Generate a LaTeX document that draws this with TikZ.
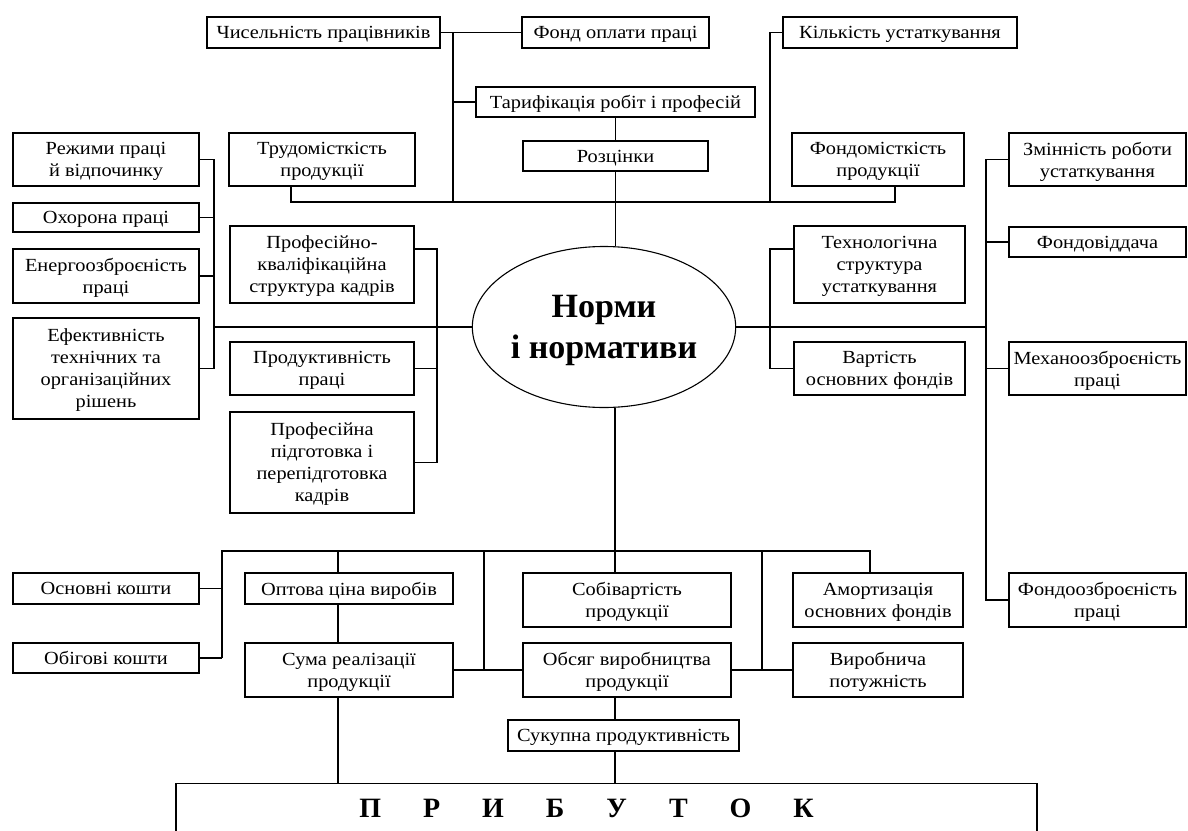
\documentclass[tikz,border=0pt]{standalone}
\usepackage{fontspec}
\setmainfont{Liberation Serif}
\newfontfamily\boxfamily{Liberation Serif}[FakeStretch=1.1]
\usetikzlibrary{shapes.geometric}

\newcommand{\boxfont}{\boxfamily\fontsize{18.5}{22}\selectfont}
\newcommand{\normsfont}{\fontsize{34}{41}\selectfont\bfseries}
\newcommand{\profitfont}{\fontsize{28}{30}\selectfont\bfseries}
\newcommand{\gap}{\hspace{42pt}}

\begin{document}
\begin{tikzpicture}[
    x=1pt, y=-1pt,
    line width=1.1pt,
    box/.style 2 args={draw, align=center, inner sep=0pt, font=\boxfont,
        minimum width=#1, minimum height=#2, text depth=-5pt},
    norm/.style={ellipse, draw, align=center, inner sep=0pt, font=\normsfont,
        text depth=-14pt}
]
    \useasboundingbox (0,0) rectangle (1188,830);
    \fill[white] (0,0) rectangle (1188,830);
    \clip (0,0) rectangle (1188,830);

    % Top row
    \node[box={233pt}{31pt}] (chys) at (323.5,32.5) {Чисельність працівників};
    \node[box={187pt}{31pt}] (fond) at (615.5,32.5) {Фонд оплати праці};
    \node[box={234pt}{31pt}] (kilk) at (900,32.5) {Кількість устаткування};
    \node[box={279pt}{30pt}] (taryf) at (615.5,102) {Тарифікація робіт і професій};
    \node[box={185pt}{30pt}] (rozc) at (615.5,156) {Розцінки};
    \node[box={186pt}{53pt}] (trud) at (322,159.5) {Трудомісткість\\продукції};
    \node[box={172pt}{53pt}] (fondm) at (878,159.5) {Фондомісткість\\продукції};

    % Left column
    \node[box={186pt}{53pt}] (rezh) at (106,159.5) {Режими праці\\й відпочинку};
    \node[box={186pt}{29pt}] (ohor) at (106,217.5) {Охорона праці};
    \node[box={186pt}{54pt}] (energ) at (106,276) {Енергоозброєність\\праці};
    \node[box={186pt}{101pt}] (efekt) at (106,368.5) {Ефективність\\технічних та\\організаційних\\рішень};

    % Second column
    \node[box={184pt}{77pt}] (profkv) at (322,264.5) {Професійно-\\кваліфікаційна\\структура кадрів};
    \node[box={184pt}{53pt}] (produkt) at (322,368.5) {Продуктивність\\праці};
    \node[box={184pt}{101pt}] (profpid) at (322,462.5) {Професійна\\підготовка і\\перепідготовка\\кадрів};

    % Centre
    \node[norm, minimum width=256pt, minimum height=161pt] (norms) at (604,327) {Норми\\і нормативи};

    % Right of centre
    \node[box={171pt}{77pt}] (tekhn) at (879.5,264.5) {Технологічна\\структура\\устаткування};
    \node[box={171pt}{53pt}] (vart) at (879.5,368.5) {Вартість\\основних фондів};

    % Right column
    \node[box={177pt}{53pt}] (zmin) at (1097.5,159.5) {Змінність роботи\\устаткування};
    \node[box={177pt}{30pt}] (fondv) at (1097.5,242) {Фондовіддача};
    \node[box={177pt}{53pt}] (mekh) at (1097.5,368.5) {Механоозброєність\\праці};
    \node[box={177pt}{54pt}] (fondoz) at (1097.5,600) {Фондоозброєність\\праці};

    % Bottom part
    \node[box={186pt}{31pt}] (osn) at (106,588.5) {Основні кошти};
    \node[box={186pt}{30pt}] (obig) at (106,658) {Обігові кошти};
    \node[box={208pt}{31pt}] (opt) at (349,588.5) {Оптова ціна виробів};
    \node[box={208pt}{54pt}] (suma) at (349,670) {Сума реалізації\\продукції};
    \node[box={208pt}{54pt}] (sobiv) at (627,600) {Собівартість\\продукції};
    \node[box={208pt}{54pt}] (obsyag) at (627,670) {Обсяг виробництва\\продукції};
    \node[box={231pt}{31pt}] (sukup) at (623.5,735.5) {Сукупна продуктивність};
    \node[box={170pt}{54pt}] (amort) at (878,600) {Амортизація\\основних фондів};
    \node[box={170pt}{54pt}] (vyrob) at (878,670) {Виробнича\\потужність};
    \node[draw, minimum width=861pt, minimum height=50pt, anchor=north, font=\profitfont] (profit) at (606.5,783)
        {\hspace*{-40pt}П\gap Р\gap И\gap Б\gap У\gap Т\gap О\gap К};

    % Junctions
    \coordinate (jChys) at (453,202);
    \coordinate (jKilk) at (770,202);
    \coordinate (busL) at (291,202);
    \coordinate (busR) at (895,202);
    \coordinate (jLeft) at (214,327);
    \coordinate (jMidL) at (437,327);
    \coordinate (jMidR) at (770,327);
    \coordinate (jRight) at (986,327);
    \coordinate (jCentre) at (615,551);
    \coordinate (bL) at (222,551);
    \coordinate (bSum) at (338,551);
    \coordinate (bObs) at (484,551);
    \coordinate (bVyr) at (762,551);
    \coordinate (bR) at (870,551);

    % Upper links
    \draw (chys) -- (fond);
    \draw (jChys |- chys) -- (jChys);
    \draw (jChys |- taryf) -- (taryf);
    \draw (taryf) -- (rozc);
    \draw (rozc.south) -- (rozc.south |- norms.north);
    \draw (busL |- trud.south) -- (busL) -- (busR) -- (busR |- fondm.south);
    \draw (kilk.west) -| (jKilk);

    % Left links
    \draw (rezh.east) -| (jLeft |- efekt.east) -- (efekt.east);
    \draw (ohor.east) -- (jLeft |- ohor.east);
    \draw (energ.east) -- (jLeft |- energ.east);
    \draw (jLeft) -- (norms.west);
    \draw ([yshift=15.5pt]profkv.east) -| (jMidL |- profpid.east) -- (profpid.east);
    \draw (produkt.east) -- (jMidL |- produkt.east);

    % Right links
    \draw ([yshift=15.5pt]tekhn.west) -| (jMidR |- vart.west) -- (vart.west);
    \draw (norms.east) -- (jRight);
    \draw (zmin.west) -| (jRight |- fondoz.west) -- (fondoz.west);
    \draw (fondv.west) -- (jRight |- fondv.west);
    \draw (mekh.west) -- (jRight |- mekh.west);

    % Lower links
    \draw (jCentre |- norms.south) -- (jCentre |- sobiv.north);
    \draw (bL |- obig.east) -- (bL) -- (bR) -- (bR |- amort.north);
    \draw (osn.east) -- (bL |- osn.east);
    \draw (obig.east) -- (bL |- obig.east);
    \draw (bSum) -- (bSum |- opt.north);
    \draw (bSum |- opt.south) -- (bSum |- suma.north);
    \draw (bSum |- suma.south) -- (bSum |- profit.north);
    \draw (bObs) -- (bObs |- suma.east);
    \draw (suma.east) -- (obsyag.west);
    \draw (bVyr) -- (bVyr |- vyrob.west);
    \draw (obsyag.east) -- (vyrob.west);
    \draw (jCentre |- obsyag.south) -- (jCentre |- sukup.north);
    \draw (jCentre |- sukup.south) -- (jCentre |- profit.north);
\end{tikzpicture}
\end{document}
